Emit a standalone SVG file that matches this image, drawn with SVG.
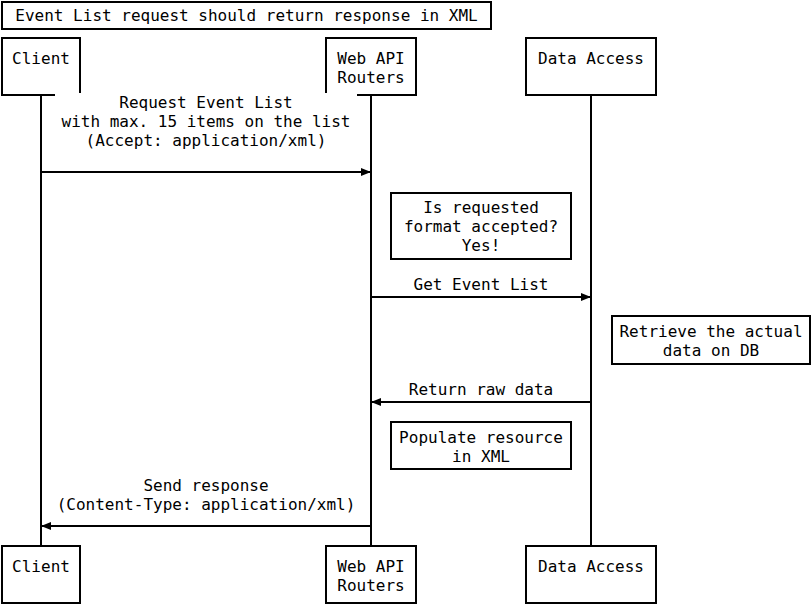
<svg xmlns="http://www.w3.org/2000/svg" width="812" height="605" viewBox="0 0 812 605">
<style>
  text { font-family: "DejaVu Sans Mono", "Liberation Mono", monospace; font-size: 16px; fill: #000; text-anchor: middle; }
  .box { fill: #fff; stroke: #000; stroke-width: 2; }
  .life { stroke: #000; stroke-width: 2; fill: none; }
  .msg { stroke: #000; stroke-width: 2; fill: none; marker-end: url(#arrow); }
</style>
<defs>
  <marker id="arrow" viewBox="0 0 10 8" refX="10" refY="4" markerWidth="10" markerHeight="8" markerUnits="userSpaceOnUse" orient="auto">
    <path d="M0,0 L10,4 L0,8 Z" fill="#000"/>
  </marker>
</defs>
<rect width="812" height="605" fill="#fff"/>
<g id="title">
  <rect class="box" x="2" y="2" width="489" height="27"/>
  <text x="246.5" y="21">Event List request should return response in XML</text>
</g>
<g id="lifelines">
  <line class="life" x1="41" y1="95" x2="41" y2="546"/>
  <line class="life" x1="371" y1="95" x2="371" y2="546"/>
  <line class="life" x1="591" y1="95" x2="591" y2="546"/>
</g>
<g id="client-top">
  <rect class="box" x="2" y="38" width="78" height="57"/>
  <text x="41" y="64">Client</text>
</g>
<g id="webapi-top">
  <rect class="box" x="326" y="38" width="90" height="57"/>
  <text x="371" y="64">Web API</text>
  <text x="371" y="83">Routers</text>
</g>
<g id="data-top">
  <rect class="box" x="526" y="38" width="130" height="57"/>
  <text x="591" y="64">Data Access</text>
</g>
<g id="connectors">
  <rect x="55" y="93" width="302" height="58" fill="#fff"/>
  <text x="206" y="108">Request Event List</text>
  <text x="206" y="127">with max. 15 items on the list</text>
  <text x="206" y="146">(Accept: application/xml)</text>
  <line class="msg" x1="41" y1="172" x2="371" y2="172"/>
  <text x="481" y="290">Get Event List</text>
  <line class="msg" x1="371" y1="297" x2="591" y2="297"/>
  <text x="481" y="395">Return raw data</text>
  <line class="msg" x1="591" y1="402" x2="371" y2="402"/>
  <text x="206" y="491">Send response</text>
  <text x="206" y="510">(Content-Type: application/xml)</text>
  <line class="msg" x1="371" y1="526" x2="41" y2="526"/>
</g>
<g id="note-format">
  <rect class="box" x="391" y="193" width="180" height="66"/>
  <text x="481" y="213">Is requested</text>
  <text x="481" y="232">format accepted?</text>
  <text x="481" y="251">Yes!</text>
</g>
<g id="note-retrieve">
  <rect class="box" x="612" y="316" width="198" height="48"/>
  <text x="711" y="337">Retrieve the actual</text>
  <text x="711" y="356">data on DB</text>
</g>
<g id="note-populate">
  <rect class="box" x="391" y="422" width="180" height="47"/>
  <text x="481" y="443">Populate resource</text>
  <text x="481" y="462">in XML</text>
</g>
<g id="client-bottom">
  <rect class="box" x="2" y="546" width="78" height="57"/>
  <text x="41" y="572">Client</text>
</g>
<g id="webapi-bottom">
  <rect class="box" x="326" y="546" width="90" height="57"/>
  <text x="371" y="572">Web API</text>
  <text x="371" y="591">Routers</text>
</g>
<g id="data-bottom">
  <rect class="box" x="526" y="546" width="130" height="57"/>
  <text x="591" y="572">Data Access</text>
</g>
</svg>
